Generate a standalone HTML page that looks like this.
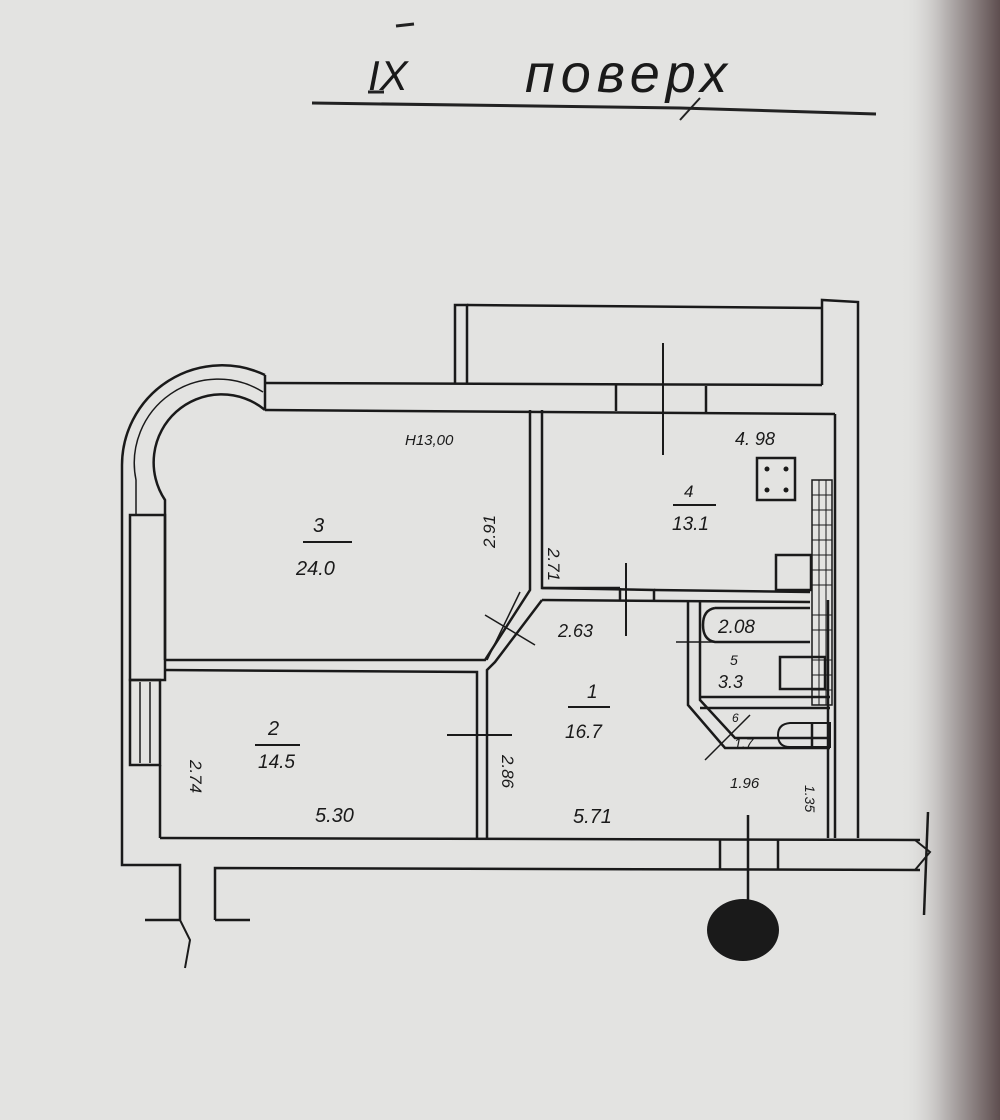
<!DOCTYPE html>
<html><head><meta charset="utf-8"><style>
html,body{margin:0;padding:0}
body{width:1000px;height:1120px;overflow:hidden;background:#e3e3e1}
svg{display:block}
text{font-family:"Liberation Sans",sans-serif;font-style:italic;fill:#1a1a1a}
</style></head><body>
<svg width="1000" height="1120" viewBox="0 0 1000 1120" xmlns="http://www.w3.org/2000/svg">
<defs>
<linearGradient id="edge" x1="0" x2="1" y1="0" y2="0">
<stop offset="0" stop-color="#e3e3e1" stop-opacity="0"/>
<stop offset="0.45" stop-color="#b8b4b3"/>
<stop offset="1" stop-color="#5e4e4f"/>
</linearGradient>
</defs>
<rect width="1000" height="1120" fill="#e3e3e1"/>
<rect x="900" y="0" width="100" height="1120" fill="url(#edge)"/>

<!-- title -->
<text x="368" y="90" font-size="42" font-style="italic">IX</text>
<line x1="368" y1="92" x2="384" y2="92" stroke="#222" stroke-width="3"/>
<line x1="396" y1="26" x2="414" y2="24" stroke="#222" stroke-width="3"/>
<text x="525" y="92" font-size="54" letter-spacing="6">поверх</text>
<polyline points="312,103 680,108 876,114" fill="none" stroke="#222" stroke-width="3"/>
<line x1="700" y1="98" x2="680" y2="120" stroke="#222" stroke-width="2"/>

<g fill="none" stroke="#1a1a1a" stroke-width="2.5">
<!-- balcony -->
<polyline points="455,383 455,305 467,305 467,383"/>
<line x1="467" y1="305" x2="822" y2="308"/>
<polyline points="822,308 822,300 858,302 858,838"/>
<polyline points="822,308 822,385"/>
<!-- top wall -->
<line x1="265" y1="383" x2="822" y2="385"/>
<line x1="265" y1="410" x2="835" y2="414"/>
<line x1="265" y1="375" x2="265" y2="410"/>
<line x1="616" y1="385" x2="616" y2="411"/>
<line x1="706" y1="386" x2="706" y2="412"/>
<line x1="835" y1="414" x2="835" y2="838"/>
<!-- arc -->
<path d="M265,375 A100,100 0 0 0 122,465 L122,515"/>
<path d="M263,392 A84,84 0 0 0 136,480 L136,515" stroke-width="1.5"/>
<path d="M265,410 A68,68 0 0 0 165,500 L165,515"/>
<!-- left wall -->
<polyline points="122,515 122,865 180,865 180,920"/>
<line x1="165" y1="515" x2="165" y2="660"/>
<rect x="130" y="515" width="35" height="165"/>
<rect x="130" y="680" width="30" height="85"/>
<line x1="140" y1="682" x2="140" y2="763" stroke-width="1.5"/>
<line x1="150" y1="682" x2="150" y2="763" stroke-width="1.5"/>
<line x1="160" y1="765" x2="160" y2="838"/>
<polyline points="145,920 180,920"/>
<polyline points="215,920 215,868 920,870"/>
<line x1="215" y1="920" x2="250" y2="920"/>
<polyline points="180,920 190,940 185,968" stroke-width="2"/>
<line x1="160" y1="838" x2="920" y2="840"/>
<line x1="720" y1="840" x2="720" y2="870"/>
<line x1="778" y1="840" x2="778" y2="870"/>
<line x1="928" y1="812" x2="924" y2="915"/>
<polyline points="915,840 930,852 915,870" stroke-width="2"/>
<line x1="748" y1="815" x2="748" y2="905"/>
<!-- interior walls -->
<polyline points="530,410 530,590 485,660 165,660"/>
<polyline points="542,410 542,588 654,590 654,600"/>
<polyline points="542,588 620,588"/>
<line x1="542" y1="600" x2="810" y2="602"/>
<line x1="654" y1="590" x2="810" y2="592"/>
<line x1="620" y1="588" x2="620" y2="600"/>
<polyline points="542,600 495,662 487,670 487,838"/>
<polyline points="165,670 477,672 477,838"/>
<line x1="520" y1="592" x2="487" y2="660" stroke-width="1.5"/>
<line x1="485" y1="615" x2="535" y2="645" stroke-width="1.5"/>
<line x1="447" y1="735" x2="512" y2="735" stroke-width="2"/>
<line x1="626" y1="563" x2="626" y2="636" stroke-width="2"/>
<line x1="663" y1="343" x2="663" y2="455" stroke-width="2"/>
<!-- bathroom -->
<polyline points="688,602 688,705 725,748 830,748"/>
<polyline points="700,602 700,700 735,738 830,738"/>
<line x1="676" y1="642" x2="730" y2="642" stroke-width="1.5"/>
<path d="M715,608 L810,608 M715,608 Q703,610 703,625 Q703,640 715,642 L810,642"/>
<line x1="700" y1="697" x2="830" y2="697"/>
<line x1="700" y1="708" x2="830" y2="708"/>
<rect x="780" y="657" width="45" height="32"/>
<path d="M790,723 Q778,724 778,735 Q778,747 790,747 L830,747 L830,723 Z" stroke-width="2"/>
<line x1="812" y1="723" x2="812" y2="747"/>
<line x1="705" y1="760" x2="750" y2="715" stroke-width="1.5"/>
<line x1="828" y1="600" x2="828" y2="838"/>
<!-- kitchen -->
<rect x="757" y="458" width="38" height="42"/>
<rect x="776" y="555" width="35" height="35"/>
<rect x="812" y="480" width="20" height="225" stroke-width="1.5"/>
</g>
<g stroke="#1a1a1a" stroke-width="1">
<line x1="812" y1="495" x2="832" y2="495"/><line x1="812" y1="510" x2="832" y2="510"/>
<line x1="812" y1="525" x2="832" y2="525"/><line x1="812" y1="540" x2="832" y2="540"/>
<line x1="812" y1="555" x2="832" y2="555"/><line x1="812" y1="570" x2="832" y2="570"/>
<line x1="812" y1="585" x2="832" y2="585"/><line x1="812" y1="615" x2="832" y2="615"/>
<line x1="812" y1="630" x2="832" y2="630"/><line x1="812" y1="660" x2="832" y2="660"/>
<line x1="812" y1="675" x2="832" y2="675"/><line x1="812" y1="690" x2="832" y2="690"/>
<line x1="819" y1="480" x2="819" y2="705"/><line x1="826" y1="480" x2="826" y2="705"/>
</g>
<g fill="#1a1a1a">
<circle cx="767" cy="469" r="2.5"/><circle cx="786" cy="469" r="2.5"/>
<circle cx="767" cy="490" r="2.5"/><circle cx="786" cy="490" r="2.5"/>
<ellipse cx="743" cy="930" rx="36" ry="31"/>
</g>
<g stroke="#1a1a1a" stroke-width="2">
<line x1="303" y1="542" x2="352" y2="542"/>
<line x1="255" y1="745" x2="300" y2="745"/>
<line x1="673" y1="505" x2="716" y2="505"/>
<line x1="568" y1="707" x2="610" y2="707"/>
</g>
<text x="313" y="532" font-size="20">3</text>
<text x="296" y="575" font-size="20">24.0</text>
<text x="405" y="445" font-size="15">H13,00</text>
<text x="268" y="735" font-size="20">2</text>
<text x="258" y="768" font-size="19">14.5</text>
<text x="684" y="497" font-size="17">4</text>
<text x="672" y="530" font-size="19">13.1</text>
<text x="587" y="698" font-size="19">1</text>
<text x="565" y="738" font-size="19">16.7</text>
<text x="735" y="445" font-size="18">4. 98</text>
<text x="558" y="637" font-size="18">2.63</text>
<text x="718" y="633" font-size="19">2.08</text>
<text x="730" y="665" font-size="14">5</text>
<text x="718" y="688" font-size="18">3.3</text>
<text x="732" y="722" font-size="12">6</text>
<text x="734" y="748" font-size="14">1.7</text>
<text x="730" y="788" font-size="15">1.96</text>
<text x="315" y="822" font-size="20">5.30</text>
<text x="573" y="823" font-size="20">5.71</text>
<text font-size="17" transform="translate(495,548) rotate(-90)">2.91</text>
<text font-size="17" transform="translate(548,548) rotate(90)">2.71</text>
<text font-size="17" transform="translate(190,760) rotate(90)">2.74</text>
<text font-size="17" transform="translate(502,755) rotate(90)">2.86</text>
<text font-size="14" transform="translate(805,785) rotate(90)">1.35</text>
</svg>
</body></html>
